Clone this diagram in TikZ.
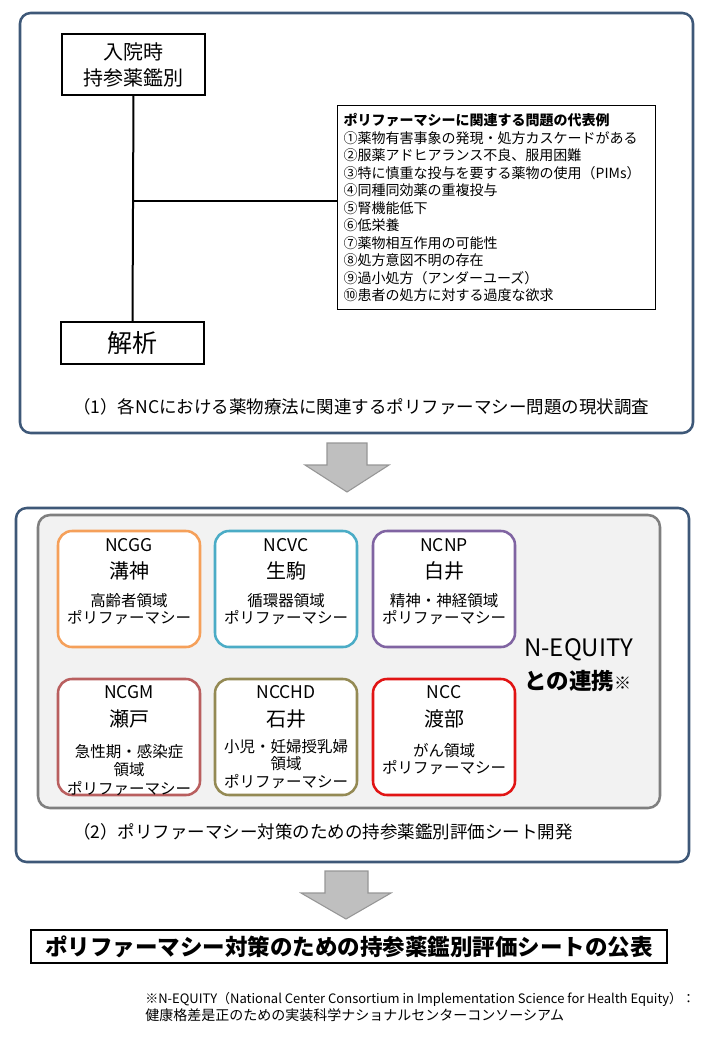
\documentclass[tikz,border=0pt]{standalone}
\usepackage{fontspec}
\setmainfont{Noto Sans CJK JP}
\newcommand\pxf[2]{\fontsize{\fpeval{#1*0.75}pt}{\fpeval{#2*0.75}pt}\selectfont}
\definecolor{framec}{RGB}{62,88,120}
\definecolor{cOrange}{RGB}{245,160,90}
\definecolor{cTeal}{RGB}{75,172,198}
\definecolor{cPurple}{RGB}{128,100,162}
\definecolor{cRose}{RGB}{185,95,95}
\definecolor{cOlive}{RGB}{148,138,84}
\definecolor{cRed}{RGB}{225,20,20}
\definecolor{grayfill}{RGB}{242,242,242}
\definecolor{graystroke}{RGB}{127,127,127}
\definecolor{arrowfill}{RGB}{191,191,191}
\definecolor{arrowstroke}{RGB}{150,150,150}
\tikzset{
  frame/.style={draw=framec, line width=1.9pt, rounded corners=8pt},
  plainbox/.style={draw=black, line width=1pt, fill=white, align=center, inner sep=0pt},
  ncbox/.style={draw=#1, line width=1.9pt, fill=white, rounded corners=10.5pt,
    minimum width=106.5pt, minimum height=87pt, inner sep=0pt},
  codetxt/.style={font=\pxf{17.5}{20}},
  nametxt/.style={font=\pxf{20}{24}},
  domtxt/.style={align=center, font=\pxf{15.5}{#1}},
  blockarrow/.style={fill=arrowfill, draw=arrowstroke, line width=0.8pt, line join=miter},
  conn/.style={draw=black, line width=1.5pt},
}
\begin{document}
\begin{tikzpicture}[x=0.75pt, y=-0.75pt]
\useasboundingbox (0,0) rectangle (720,1040);

% ---------- (1) top frame ----------
\draw[frame] (20,13) rectangle (693,433);

\node[plainbox, minimum width=107.25pt, minimum height=45.75pt, font=\pxf{20}{26}] (nyuin) at (133.5,64.5)
  {入院時\\持参薬鑑別};
\node[plainbox, minimum width=107.25pt, minimum height=31.5pt, font=\pxf{25}{30}] (kaiseki) at (132.5,343)
  {解析};
\node[plainbox, anchor=north west, text width=229.5pt, minimum height=153pt,
      inner xsep=4.5pt, inner ysep=2pt, align=left, font=\pxf{14}{17.5}] (list) at (337,105)
  {{\bfseries ポリファーマシーに関連する問題の代表例}\\
   ①薬物有害事象の発現・処方カスケードがある\\
   ②服薬アドヒアランス不良、服用困難\\
   ③特に慎重な投与を要する薬物の使用（PIMs）\\
   ④同種同効薬の重複投与\\
   ⑤腎機能低下\\
   ⑥低栄養\\
   ⑦薬物相互作用の可能性\\
   ⑧処方意図不明の存在\\
   ⑨過小処方（アンダーユーズ）\\
   ⑩患者の処方に対する過度な欲求};

\coordinate (junc) at (133,201);
\draw[conn] (nyuin.south) -- (kaiseki.north);
\draw[conn] (junc) -- (list.west |- junc);

\node[anchor=west, inner sep=0pt, font=\pxf{17.5}{20}] (lab1) at (73,407)
  {（1）各NCにおける薬物療法に関連するポリファーマシー問題の現状調査};

% ---------- arrow 1 ----------
\draw[blockarrow] (327,443) -- (367,443) -- (367,465) -- (389,465) -- (347,492)
  -- (305,465) -- (327,465) -- cycle;

% ---------- (2) middle frame ----------
\draw[frame] (16,508) rectangle (689,862);
\draw[draw=graystroke, fill=grayfill, line width=1.9pt, rounded corners=9pt]
  (38,515) rectangle (660,808);

% row 1
\node[ncbox=cOrange] (ncgg) at (129,589) {};
\node[ncbox=cTeal]   (ncvc) at (286,589) {};
\node[ncbox=cPurple] (ncnp) at (444,589) {};
% row 2
\node[ncbox=cRose]   (ncgm)  at (129,737) {};
\node[ncbox=cOlive]  (ncchd) at (286,737) {};
\node[ncbox=cRed]    (ncc)   at (444,737) {};

% texts row 1
\node[codetxt] (ncggA) at (129,545) {NCGG};
\node[nametxt] (ncggB) at (129,571) {溝神};
\node[domtxt=16.5] (ncggC) at (129,609) {高齢者領域\\ポリファーマシー};

\node[codetxt] (ncvcA) at (286,545) {NCVC};
\node[nametxt] (ncvcB) at (286,571) {生駒};
\node[domtxt=16.5] (ncvcC) at (286,609) {循環器領域\\ポリファーマシー};

\node[codetxt] (ncnpA) at (444,545) {NCNP};
\node[nametxt] (ncnpB) at (444,571) {白井};
\node[domtxt=16.5] (ncnpC) at (444,609) {精神・神経領域\\ポリファーマシー};

% texts row 2
\node[codetxt] (ncgmA) at (129,692) {NCGM};
\node[nametxt] (ncgmB) at (129,719) {瀬戸};
\node[domtxt=18.5] (ncgmC) at (129,770) {急性期・感染症\\領域\\ポリファーマシー};

\node[codetxt] (ncchdA) at (286,692) {NCCHD};
\node[nametxt] (ncchdB) at (286,719) {石井};
\node[domtxt=17.5] (ncchdC) at (286,764) {小児・妊婦授乳婦\\領域\\ポリファーマシー};

\node[codetxt] (nccA) at (444,692) {NCC};
\node[nametxt] (nccB) at (444,719) {渡部};
\node[domtxt=16.5] (nccC) at (444,759) {がん領域\\ポリファーマシー};

% N-EQUITY
\node[anchor=west, inner sep=0pt, font=\pxf{24}{26}] (neq) at (524,650) {N-EQUITY};
\node[anchor=west, inner sep=0pt, font=\pxf{22.5}{26}\bfseries] (neq2) at (524,681) {との連携{\pxf{17}{20}※}};

\node[anchor=west, inner sep=0pt, font=\pxf{17.5}{20}] (lab2) at (73,832)
  {（2）ポリファーマシー対策のための持参薬鑑別評価シート開発};

% ---------- arrow 2 ----------
\draw[blockarrow] (325,871) -- (368,871) -- (368,893) -- (391,893) -- (346,919)
  -- (301,893) -- (325,893) -- cycle;

% ---------- result ----------
\node[plainbox, minimum width=477pt, minimum height=24.75pt, font=\pxf{22.5}{26}\bfseries] (result) at (349,946.5)
  {ポリファーマシー対策のための持参薬鑑別評価シートの公表};

% footnote
\node[anchor=north west, align=left, inner sep=0pt, font=\pxf{13}{17}] (foot) at (145,992)
  {※N-EQUITY（National Center Consortium in Implementation Science for Health Equity）：\\
   {\pxf{14}{17}健康格差是正のための実装科学ナショナルセンターコンソーシアム}};
\end{tikzpicture}
\end{document}
